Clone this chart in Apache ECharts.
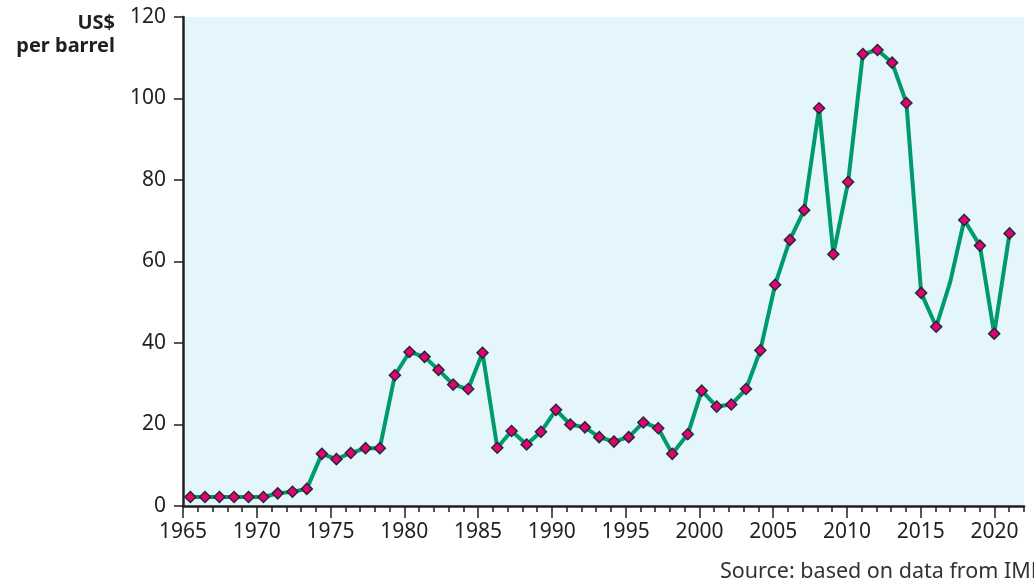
<!DOCTYPE html>
<html>
<head>
<meta charset="utf-8">
<script src="https://cdn.jsdelivr.net/npm/echarts@6/dist/echarts.min.js"></script>
<style>
  html, body { margin: 0; padding: 0; background: #fff; }
  #main { width: 1034px; height: 582px; }
</style>
</head>
<body>
<div id="main"></div>
<script>
// year labels of each observation
let years = [
  1965, 1966, 1967, 1968, 1969, 1970, 1971, 1972, 1973, 1974,
  1975, 1976, 1977, 1978, 1979, 1980, 1981, 1982, 1983, 1984,
  1985, 1986, 1987, 1988, 1989, 1990, 1991, 1992, 1993, 1994,
  1995, 1996, 1997, 1998, 1999, 2000, 2001, 2002, 2003, 2004,
  2005, 2006, 2007, 2008, 2009, 2010, 2011, 2012, 2013, 2014,
  2015, 2016, 2017, 2018, 2019, 2020, 2021
];
// where each point sits on the year axis
let yearPos = [
  1965.50, 1966.49, 1967.47, 1968.46, 1969.44, 1970.45, 1971.42, 1972.42, 1973.39, 1974.41,
  1975.40, 1976.37, 1977.37, 1978.34, 1979.36, 1980.35, 1981.37, 1982.32, 1983.31, 1984.33,
  1985.30, 1986.30, 1987.27, 1988.29, 1989.26, 1990.28, 1991.25, 1992.24, 1993.21, 1994.21,
  1995.21, 1996.20, 1997.21, 1998.16, 1999.21, 2000.16, 2001.17, 2002.16, 2003.16, 2004.13,
  2005.13, 2006.13, 2007.10, 2008.11, 2009.08, 2010.08, 2011.08, 2012.07, 2013.06, 2014.03,
  2015.03, 2016.05, 2017.00, 2017.95, 2019.01, 2019.98, 2021.02
];
// oil price, US$ per barrel
let prices = [
  2.2, 2.2, 2.2, 2.2, 2.2, 2.2, 3.1, 3.5, 4.2, 12.8,
  11.5, 13.0, 14.2, 14.2, 32.1, 37.8, 36.6, 33.4, 29.8, 28.7,
  37.6, 14.3, 18.4, 15.1, 18.2, 23.6, 20.0, 19.3, 16.9, 15.8,
  16.9, 20.5, 19.1, 12.8, 17.6, 28.3, 24.4, 24.9, 28.7, 38.2,
  54.3, 65.3, 72.6, 97.6, 61.8, 79.5, 110.9, 111.9, 108.8, 98.9,
  52.3, 44.0, 55.0, 70.2, 63.9, 42.3, 66.9
];
// years drawn without a marker
let noMarkerYears = [2017];

let xMajorTicks = [1965, 1970, 1975, 1980, 1985, 1990, 1995, 2000, 2005, 2010, 2015, 2020];
let yTicks = [0, 20, 40, 60, 80, 100, 120];

let xMin = 1965, xMax = 2022;
let xMinorTicks = [];
for (let y = xMin; y <= xMax; y++) xMinorTicks.push(y);

let seriesData = years.map((yr, i) => {
  let item = { value: [yearPos[i], prices[i]] };
  if (noMarkerYears.indexOf(yr) > -1) item.symbol = 'none';
  return item;
});

let font = '"Noto Sans", "Open Sans", sans-serif';
let axisColor = '#231f20';

let chart = echarts.init(document.getElementById('main'), null, { renderer: 'canvas' });
chart.setOption({
  animation: false,
  backgroundColor: '#fff',
  grid: {
    left: 183, right: 10, top: 17, bottom: 76,
    show: true,
    backgroundColor: '#e4f5fc',
    borderWidth: 0
  },
  xAxis: [
    {
      type: 'value',
      min: xMin, max: xMax,
      axisLine: { show: true, lineStyle: { color: axisColor, width: 2.5 } },
      splitLine: { show: false },
      axisTick: { show: true, length: 6, customValues: xMinorTicks, lineStyle: { color: axisColor, width: 1.5 } },
      axisLabel: { show: false }
    },
    {
      type: 'value',
      position: 'bottom',
      min: xMin, max: xMax,
      axisLine: { show: false },
      splitLine: { show: false },
      axisTick: { show: true, length: 12, customValues: xMajorTicks, lineStyle: { color: axisColor, width: 1.5 } },
      axisLabel: {
        show: true,
        customValues: xMajorTicks,
        formatter: (v) => String(v),
        margin: 16,
        color: axisColor,
        fontFamily: font,
        fontSize: 21
      }
    }
  ],
  yAxis: {
    type: 'value',
    min: 0, max: 120, interval: 20,
    axisLine: { show: true, lineStyle: { color: axisColor, width: 2.5 } },
    splitLine: { show: false },
    axisTick: { show: true, length: 9, customValues: yTicks, lineStyle: { color: axisColor, width: 1.5 } },
    axisLabel: {
      show: true,
      customValues: yTicks,
      margin: 17,
      color: axisColor,
      fontFamily: font,
      fontSize: 21
    }
  },
  series: [
    {
      type: 'line',
      xAxisIndex: 0,
      data: seriesData,
      symbol: 'diamond',
      symbolSize: 11,
      showAllSymbol: true,
      lineStyle: { color: '#009a6c', width: 4 },
      itemStyle: { color: '#e4007c', borderColor: '#2a2a2a', borderWidth: 1.5 },
      z: 3
    }
  ],
  graphic: [
    {
      type: 'text',
      x: 115, y: 23,
      style: { text: 'US$', textAlign: 'right', textVerticalAlign: 'middle', fill: axisColor, font: 'bold 20px ' + font }
    },
    {
      type: 'text',
      x: 115, y: 46,
      style: { text: 'per barrel', textAlign: 'right', textVerticalAlign: 'middle', fill: axisColor, font: 'bold 20px ' + font }
    },
    {
      type: 'text',
      x: 720, y: 572,
      style: { text: 'Source: based on data from IMF', textAlign: 'left', textVerticalAlign: 'middle', fill: '#333', font: '21.5px ' + font }
    }
  ]
});
</script>
</body>
</html>
